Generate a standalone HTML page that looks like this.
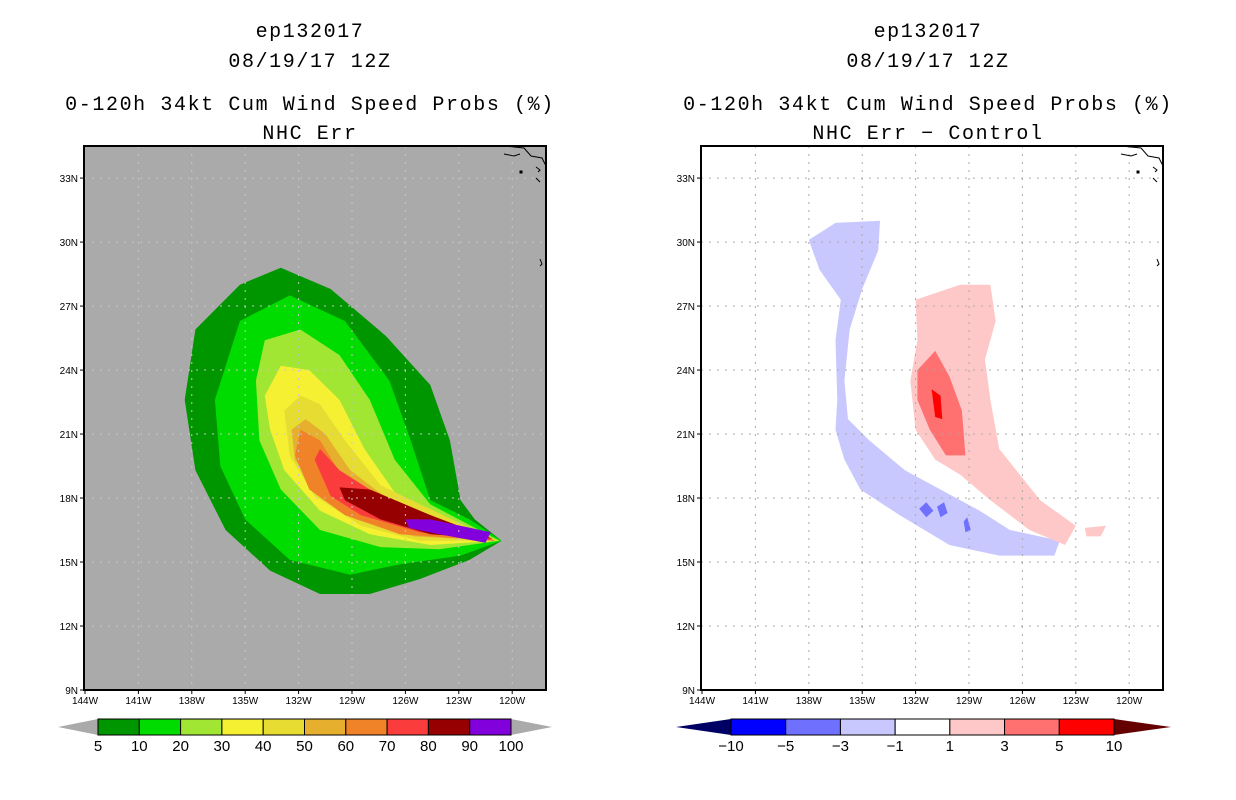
<!DOCTYPE html>
<html><head><meta charset="utf-8"><style>
html,body{margin:0;padding:0;background:#fff;}
svg{display:block;font-family:"Liberation Sans",sans-serif;}
.ttl{font-family:"Liberation Mono",monospace;letter-spacing:1.6px;}
</style></head><body>
<svg id="c" width="1236" height="800" viewBox="0 0 1236 800">
<g class="ttl" font-size="20" text-anchor="middle" fill="#000">
<text x="310" y="37">ep132017</text>
<text x="310" y="67">08/19/17 12Z</text>
<text x="310" y="110">0-120h 34kt Cum Wind Speed Probs (%)</text>
<text x="310" y="139">NHC Err</text>
</g>
<g class="ttl" font-size="20" text-anchor="middle" fill="#000">
<text x="928" y="37">ep132017</text>
<text x="928" y="67">08/19/17 12Z</text>
<text x="928" y="110">0-120h 34kt Cum Wind Speed Probs (%)</text>
<text x="928" y="139">NHC Err − Control</text>
</g>
<g id="L"></g>
<g id="R"></g>
</svg>
<script>
const lonTicks=[-144,-141,-138,-135,-132,-129,-126,-123,-120];
const latTicks=[9,12,15,18,21,24,27,30,33];
const probLevels=[5,10,20,30,40,50,60,70,80,90,100];
const probColors=['#009600','#00dc00','#a0e632','#f5f032','#e6dc32','#e6af2d','#f08228','#fa3c3c','#960000','#8200dc'];
const diffLevels=[-10,-5,-3,-1,1,3,5,10];
const diffColors=['#0000ff','#7070ff','#c8c8ff','#ffffff','#ffc8c8','#ff7070','#ff0000'];
// contour polygons [lon,lat]
const prob5=[[-138.4,22.6],[-137.8,25.9],[-135.3,28.0],[-133.0,28.8],[-130.2,27.8],[-127.1,25.6],[-124.6,23.3],[-123.5,20.7],[-122.9,17.9],[-122.1,17.0],[-120.6,16.0],[-122.4,15.1],[-125.2,14.2],[-128.0,13.5],[-130.8,13.5],[-133.6,14.6],[-136.1,16.5],[-137.8,19.3]];
const prob10=[[-136.7,22.6],[-135.3,26.3],[-132.5,27.5],[-129.4,26.3],[-126.9,23.5],[-125.7,20.7],[-124.6,17.9],[-122.4,17.0],[-120.6,16.0],[-122.9,15.3],[-126.3,14.9],[-129.1,14.4],[-132.5,15.1],[-135.0,17.0],[-136.4,19.5]];
const prob20=[[-134.4,23.5],[-133.9,25.4],[-131.9,25.9],[-129.7,24.7],[-128.0,22.6],[-126.6,19.8],[-124.6,17.7],[-120.7,16.0],[-124.1,15.6],[-127.4,15.7],[-130.8,16.5],[-133.0,18.4],[-134.2,20.7]];
const prob30=[[-133.9,22.8],[-133.0,24.2],[-131.4,24.0],[-129.7,22.6],[-128.3,20.3],[-126.3,17.9],[-120.8,16.0],[-124.6,15.8],[-128.0,16.3],[-130.8,17.4],[-132.8,19.3],[-133.6,21.2]];
const prob40=[[-132.8,22.1],[-131.9,22.8],[-130.8,22.4],[-129.4,20.7],[-127.4,18.6],[-120.9,16.0],[-125.2,16.0],[-128.5,16.7],[-131.1,18.1],[-132.5,20.0]];
const prob50=[[-132.4,21.2],[-131.6,21.7],[-130.5,21.0],[-129.1,19.3],[-126.9,17.9],[-120.9,16.0],[-125.5,16.2],[-128.8,17.0],[-131.1,18.4],[-132.2,19.8]];
const prob60=[[-132.2,20.0],[-131.9,21.2],[-130.8,20.7],[-129.4,18.8],[-126.9,17.7],[-121.0,16.0],[-126.3,16.3],[-129.4,17.2],[-131.4,18.4]];
const prob70=[[-131.1,19.8],[-130.8,20.3],[-129.7,19.3],[-128.0,18.4],[-125.2,17.4],[-121.0,16.0],[-125.2,16.4],[-128.5,17.2],[-130.2,18.1]];
const prob80=[[-129.7,18.5],[-128.0,18.4],[-124.6,17.2],[-121.1,16.1],[-124.6,16.3],[-127.4,17.0],[-129.4,17.9]];
const prob90=[[-126.0,17.0],[-124.6,17.0],[-121.2,16.4],[-121.5,15.9],[-124.1,16.3],[-125.8,16.6]];
const diffNeg3=[[-136.5,30.9],[-134.0,31.0],[-134.1,29.6],[-135.0,27.8],[-135.7,25.9],[-136.0,23.5],[-135.8,21.7],[-134.6,20.7],[-132.6,19.3],[-130.6,18.4],[-128.4,17.4],[-126.7,16.5],[-123.9,16.0],[-124.2,15.3],[-127.3,15.3],[-130.1,15.8],[-132.9,17.2],[-135.1,18.4],[-136.0,19.8],[-136.5,21.2],[-136.4,22.6],[-136.5,25.4],[-136.2,27.3],[-137.4,28.7],[-138.0,30.1]];
const diffPos1=[[-132.0,27.3],[-129.5,28.0],[-127.8,28.0],[-127.5,26.3],[-128.1,24.5],[-127.8,22.6],[-127.3,20.3],[-125.0,17.9],[-123.0,16.7],[-123.6,15.8],[-125.6,16.5],[-127.8,17.9],[-129.5,19.1],[-130.9,19.8],[-132.0,21.2],[-132.3,23.5],[-131.9,25.4]];
const diffPos1b=[[-122.5,16.6],[-121.3,16.7],[-121.6,16.2],[-122.4,16.2]];
const diffPos3=[[-131.9,24.0],[-130.9,24.9],[-130.1,23.7],[-129.4,22.1],[-129.2,20.0],[-130.3,20.0],[-131.2,21.2],[-131.9,22.6]];
const diffPos5=[[-131.1,23.1],[-130.6,22.8],[-130.5,21.7],[-130.9,21.8]];
const diffNeg5a=[[-131.8,17.5],[-131.4,17.8],[-131.0,17.4],[-131.4,17.1]];
const diffNeg5b=[[-130.8,17.6],[-130.4,17.8],[-130.2,17.3],[-130.6,17.1]];
const diffNeg5c=[[-129.3,16.9],[-129.1,17.1],[-128.9,16.5],[-129.2,16.4]];

const NS='http://www.w3.org/2000/svg';
function mk(t,a,p){const e=document.createElementNS(NS,t);for(const k in a)e.setAttribute(k,a[k]);p.appendChild(e);return e;}
const X0L=85,PX=17.8,PY=21.33,Y9=690;
function xs(off){return lon=>off+X0L+(lon+144)*PX;}
function ys(lat){return Y9-(lat-9)*PY;}
function poly(g,pts,fill,sx,name){const e=mk('polygon',{points:pts.map(p=>sx(p[0]).toFixed(1)+','+ys(p[1]).toFixed(1)).join(' '),fill:fill},g);

return e;}

function panel(g,off,bg){
  const sx=xs(off);
  const fx=84+off,fy=146,fw=462,fh=544;
  const cp=mk('clipPath',{id:'cp'+off},g);mk('rect',{x:fx,y:fy,width:fw,height:fh},cp);
  const bgR=mk('rect',{x:fx,y:fy,width:fw,height:fh,fill:bg},g);
  
  
  const inner=mk('g',{'clip-path':'url(#cp'+off+')'},g);
  return {sx,inner,fx,fy,fw,fh};
}
function finish(g,P,gridColor){
  const {sx,inner,fx,fy,fw,fh}=P;
  lonTicks.slice(1).forEach(l=>{const e=mk('line',{x1:sx(l),x2:sx(l),y1:fy,y2:fy+fh,stroke:gridColor,'stroke-dasharray':'2,6'},inner);
  });
  latTicks.slice(1).forEach(l=>{const e=mk('line',{x1:fx,x2:fx+fw,y1:ys(l),y2:ys(l),stroke:gridColor,'stroke-dasharray':'2,6'},inner);
  });
  const cg=mk('g',{stroke:'#000',fill:'none','stroke-width':1},inner);
  
  mk('path',{d:`M${fx+420} 146 L${fx+440} 148 L${fx+447} 156 L${fx+458} 158 L${fx+462} 166`},cg);
  mk('path',{d:`M${fx+420} 154 L${fx+430} 156 L${fx+436} 154`},cg);
  mk('path',{d:`M${fx+452} 167 l4 3 l-2 2 M${fx+452} 178 l4 4 M${fx+456} 259 l2 5 l-2 2`},cg);
  mk('rect',{x:fx+436,y:171,width:2,height:2,fill:'#000'},cg);
  const fr=mk('rect',{x:fx,y:fy,width:fw,height:fh,fill:'none',stroke:'#000','stroke-width':2},g);
  
  lonTicks.forEach(l=>{
    mk('line',{x1:sx(l),x2:sx(l),y1:fy+fh,y2:fy+fh+4,stroke:'#000'},g);
    const t=mk('text',{x:sx(l),y:704,'font-size':10,'text-anchor':'middle'},g);t.textContent=(-l)+'W';
    
  });
  latTicks.forEach(l=>{
    mk('line',{x1:fx-4,x2:fx,y1:ys(l),y2:ys(l),stroke:'#000'},g);
    const t=mk('text',{x:fx-6,y:ys(l)+4,'font-size':10,'text-anchor':'end'},g);t.textContent=l+'N';
    
  });
}
function colorbar(g,x0,x1,tri0,tri1,colors,labels,lc,rc,name){
  const cb=mk('g',{},g);
  const y0=719,y1=735,w=(x1-x0)/colors.length;
  mk('polygon',{points:`${tri0},727 ${x0},${y0} ${x0},${y1}`,fill:lc},cb);
  mk('polygon',{points:`${tri1},727 ${x1},${y0} ${x1},${y1}`,fill:rc},cb);
  colors.forEach((c,i)=>{const r=mk('rect',{x:x0+i*w,y:y0,width:w,height:y1-y0,fill:c,stroke:'#000'},cb);
    });
  labels.forEach((l,i)=>{const t=mk('text',{x:x0+i*w,y:751,'font-size':15,'text-anchor':'middle'},cb);t.textContent=String(l).replace('-','−');
    });
}
const L=document.getElementById('L'),R=document.getElementById('R');
const PL=panel(L,0,'#aaaaaa');
[prob5,prob10,prob20,prob30,prob40,prob50,prob60,prob70,prob80,prob90].forEach((p,i)=>poly(PL.inner,p,probColors[i],PL.sx,'prob-contour-'+probLevels[i]));
finish(L,PL,'#c8c8c8');
colorbar(L,98,511,58,552,probColors,probLevels.slice(0,11),'#aaa','#aaa','prob-colorbar');
const PR=panel(R,617,'#ffffff');
poly(PR.inner,diffNeg3,diffColors[2],PR.sx,'diff-contour-neg3');
poly(PR.inner,diffPos1,diffColors[4],PR.sx,'diff-contour-pos1');
poly(PR.inner,diffPos1b,diffColors[4],PR.sx,'diff-contour-pos1-small');
poly(PR.inner,diffPos3,diffColors[5],PR.sx,'diff-contour-pos3');
poly(PR.inner,diffPos5,diffColors[6],PR.sx,'diff-contour-pos5');
[diffNeg5a,diffNeg5b,diffNeg5c].forEach(p=>poly(PR.inner,p,diffColors[1],PR.sx,'diff-contour-neg5'));
finish(R,PR,'#aaa');
colorbar(R,731,1114,676,1171,diffColors,diffLevels,'#000064','#640000','diff-colorbar');
</script>
</body></html>
